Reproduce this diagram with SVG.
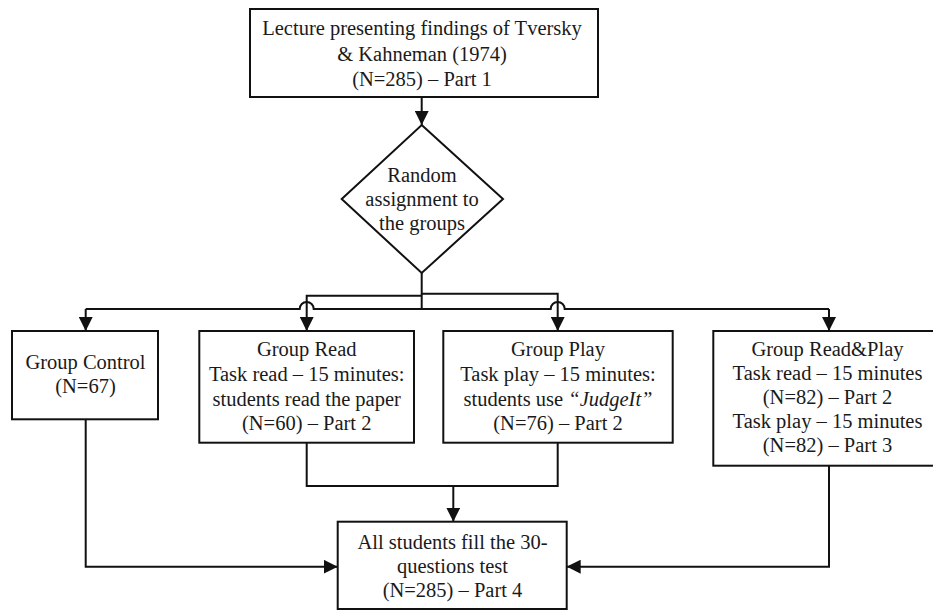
<svg xmlns="http://www.w3.org/2000/svg" width="933" height="611" viewBox="0 0 933 611">
<defs>
<style>
.box{fill:#fff;stroke:#111;stroke-width:2}
.conn{fill:none;stroke:#111;stroke-width:2}
text{font-family:"Liberation Serif","Times New Roman",serif;font-size:20.5px;fill:#1a1a1a;text-anchor:middle}
</style>
<marker id="arr" markerUnits="userSpaceOnUse" markerWidth="14" markerHeight="14" viewBox="0 0 14 14" refX="14" refY="7" orient="auto">
<path d="M0,0 L14,7 L0,14 z" fill="#111"/>
</marker>
</defs>
<rect width="933" height="611" fill="#fff"/>
<g id="connectors">
<path class="conn" d="M421.7,97 V125" marker-end="url(#arr)"/>
<path class="conn" d="M421.7,273 V309"/>
<path class="conn" d="M85.7,309 H299.7 A7,7 0 0 1 313.7,309 H550.7 A7,7 0 0 1 564.7,309 H829"/>
<path class="conn" d="M85.7,309 V331" marker-end="url(#arr)"/>
<path class="conn" d="M829,309 V331" marker-end="url(#arr)"/>
<path class="conn" d="M421.7,295.7 H306.7 V331" marker-end="url(#arr)"/>
<path class="conn" d="M421.7,293.7 H557.7 V331" marker-end="url(#arr)"/>
<path class="conn" d="M306.7,442.7 V486 H557.7 V442.7"/>
<path class="conn" d="M453.3,486 V521.7" marker-end="url(#arr)"/>
<path class="conn" d="M85.7,419.3 V566.7 H337.7" marker-end="url(#arr)"/>
<path class="conn" d="M829,465.7 V566.7 H566.7" marker-end="url(#arr)"/>
</g>
<g id="lecture">
<rect class="box" x="250" y="9" width="348" height="88"/>
<text x="422" y="35">Lecture presenting findings of Tversky</text>
<text x="422" y="61">&amp; Kahneman (1974)</text>
<text x="422" y="86">(N=285) – Part 1</text>
</g>
<g id="random">
<polygon class="box" points="421.7,125 503,199 421.7,273 341.7,199"/>
<text x="422" y="182">Random</text>
<text x="422" y="206">assignment to</text>
<text x="422" y="230">the groups</text>
</g>
<g id="control">
<rect class="box" x="12" y="331" width="146" height="88.3"/>
<text x="85.5" y="369">Group Control</text>
<text x="85.5" y="393">(N=67)</text>
</g>
<g id="read">
<rect class="box" x="199.3" y="331" width="214.7" height="111.7"/>
<text x="306.7" y="355.5">Group Read</text>
<text x="306.7" y="380.5">Task read – 15 minutes:</text>
<text x="306.7" y="405.5">students read the paper</text>
<text x="306.7" y="430">(N=60) – Part 2</text>
</g>
<g id="play">
<rect class="box" x="443.3" y="331" width="229.4" height="111.7"/>
<text x="558" y="355.5">Group Play</text>
<text x="558" y="380.5">Task play – 15 minutes:</text>
<text x="558" y="405.5">students use <tspan font-style="italic">“JudgeIt”</tspan></text>
<text x="558" y="430">(N=76) – Part 2</text>
</g>
<g id="readplay">
<rect class="box" x="713.3" y="331" width="232" height="134.7"/>
<text x="827.5" y="356">Group Read&amp;Play</text>
<text x="827.5" y="380">Task read – 15 minutes</text>
<text x="827.5" y="404">(N=82) – Part 2</text>
<text x="827.5" y="428">Task play – 15 minutes</text>
<text x="827.5" y="452">(N=82)  – Part 3</text>
</g>
<g id="test">
<rect class="box" x="337.7" y="521.7" width="229" height="87.3"/>
<text x="452.5" y="549">All students fill the 30-</text>
<text x="452.5" y="573">questions test</text>
<text x="452.5" y="597">(N=285) – Part 4</text>
</g>
</svg>
